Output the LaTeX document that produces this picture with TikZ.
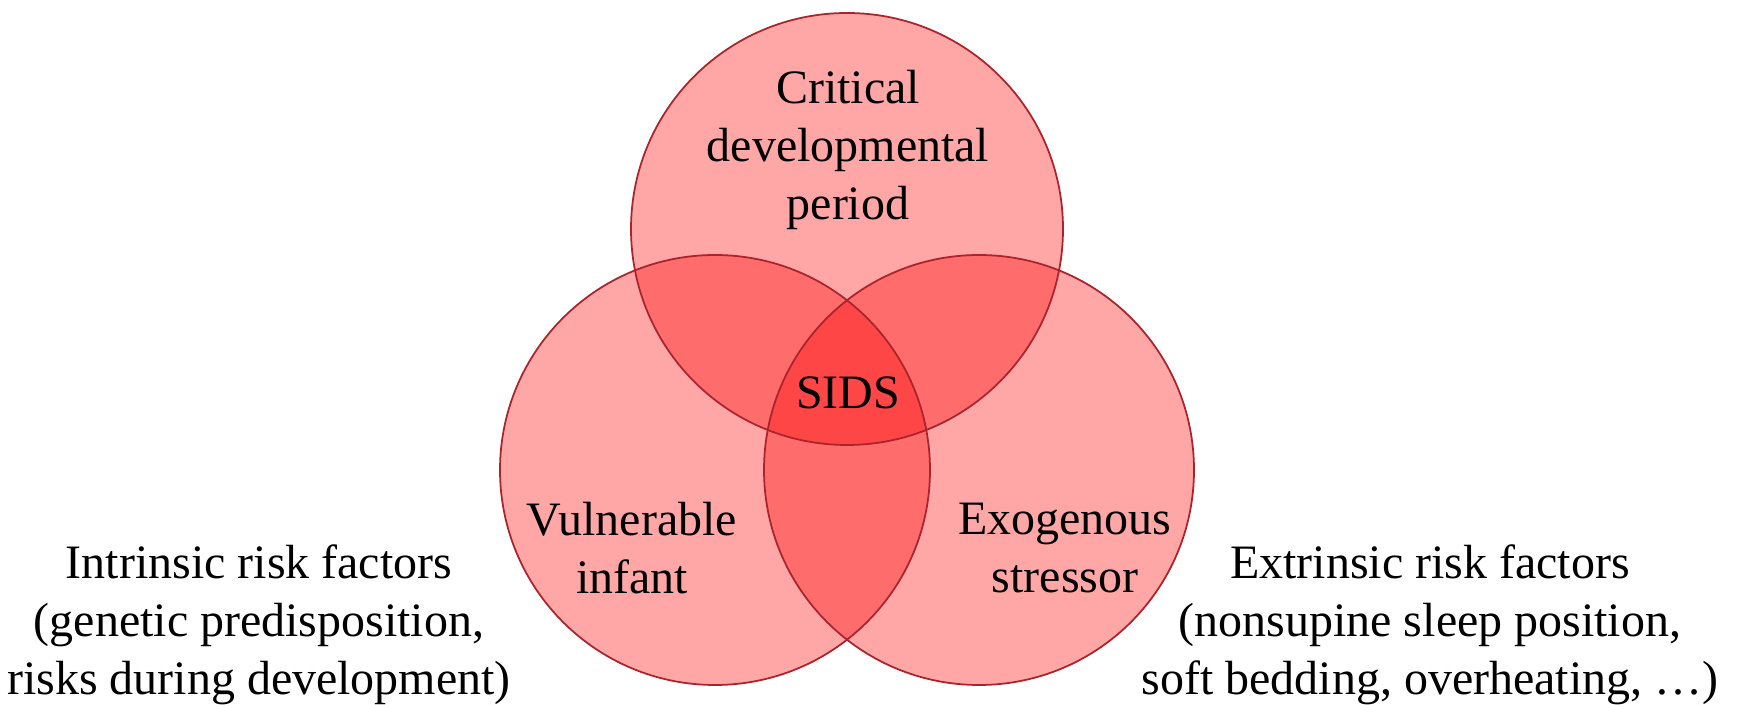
\documentclass[tikz,border=0pt]{standalone}
\usepackage{fontspec}
\setmainfont{Liberation Serif}
\definecolor{vennred}{RGB}{255,0,0}
\definecolor{rimred}{RGB}{170,35,45}
\tikzset{
  venn/.style={fill=vennred, fill opacity=0.35},
  rim/.style={draw=rimred, line width=1pt},
  vtext/.style={align=center, font=\fontsize{27.3}{33}\selectfont, inner sep=0pt}
}
\begin{document}
\begin{tikzpicture}[x=0.02cm, y=0.02cm]
        \useasboundingbox (0,0) rectangle (1746,705);
        \coordinate (T) at (847,476);
        \coordinate (L) at (715,235);
        \coordinate (R) at (979,235);

        \foreach \c/\r in {T/216,L/215,R/215} \fill[venn] (\c) circle (\r);
        \foreach \c/\r in {T/216,L/215,R/215} \draw[rim] (\c) circle (\r);

        \node[vtext] (period) at (848,555) {Critical\\developmental\\period};
        \node[vtext] (sids) at (848,312) {SIDS};
        \node[vtext] (infant) at (632,157) {Vulnerable\\infant};
        \node[vtext] (stressor) at (1065,157) {Exogenous\\stressor};
        \node[vtext] (intrinsic) at (259,80) {Intrinsic risk factors\\(genetic predisposition,\\risks during development)};
        \node[vtext] (extrinsic) at (1430,80) {Extrinsic risk factors\\(nonsupine sleep position,\\soft bedding, overheating, \dots)};
    \end{tikzpicture}
\end{document}
